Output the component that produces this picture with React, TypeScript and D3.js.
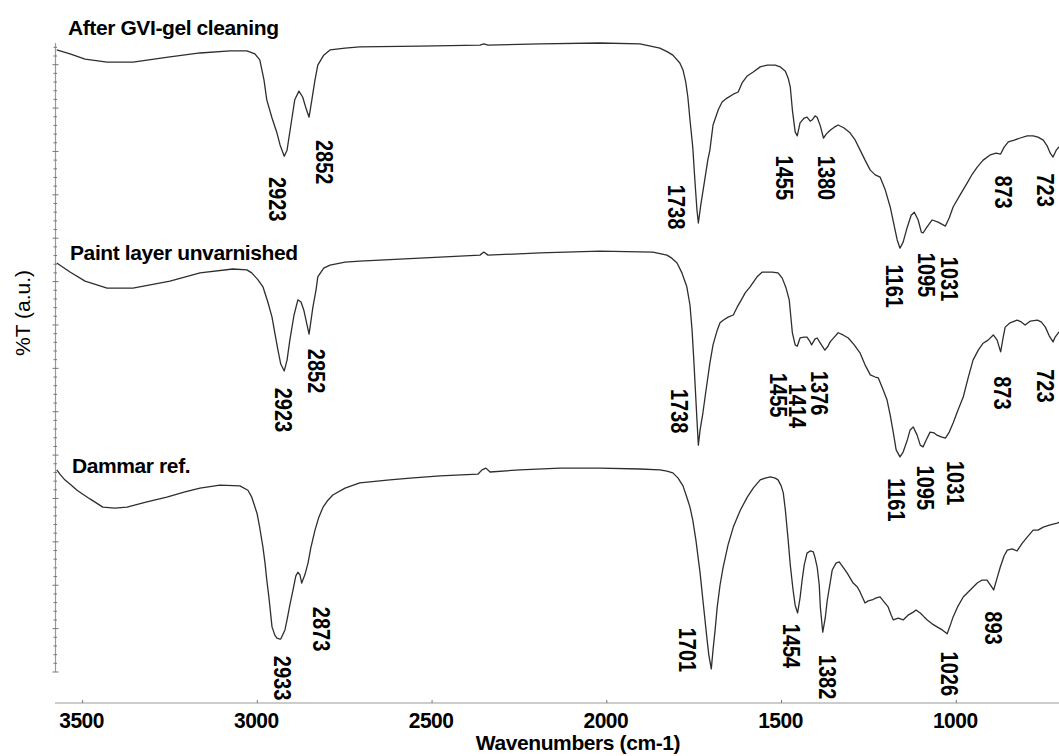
import React from "react";
import * as d3 from "d3";

// FTIR spectra, wavenumber (cm-1) vs stacked transmittance (a.u.)
const gviSpectrum: [number, number][] = [
  [3574, 143.4], [3536, 142.5], [3493, 141.3], [3430, 140.6], [3356, 140.6], [3250, 141.8], [3164, 142.7],
  [3078, 143.2], [3030, 143.2], [3007, 142.5], [2993, 141.1], [2981, 136.5], [2973, 131.9], [2958, 127.7],
  [2944, 124.3], [2935, 121.5], [2923, 118.9], [2915, 120.3], [2904, 126.1], [2893, 131.9], [2881, 133.9],
  [2870, 132.5], [2861, 130.0], [2852, 127.9], [2844, 131.9], [2835, 136.5], [2827, 139.9], [2810, 142.2],
  [2792, 143.4], [2749, 143.8], [2707, 144.1], [2535, 144.3], [2363, 144.5], [2352, 144.8], [2340, 144.5],
  [2191, 144.8], [2020, 145.0], [1905, 144.8], [1848, 143.8], [1825, 142.9], [1811, 142.2], [1791, 140.4],
  [1782, 138.8], [1774, 136.0], [1768, 132.5], [1762, 127.3], [1754, 121.0], [1748, 113.4], [1742, 106.5],
  [1738, 103.5], [1731, 107.7], [1722, 112.3], [1711, 118.0], [1705, 120.3], [1696, 126.1], [1681, 129.6],
  [1670, 131.4], [1656, 132.3], [1638, 133.2], [1624, 133.7], [1613, 135.8], [1598, 137.4], [1581, 138.3],
  [1561, 139.5], [1541, 139.9], [1518, 139.9], [1504, 139.5], [1489, 138.5], [1481, 136.9], [1475, 134.9],
  [1469, 129.6], [1461, 124.5], [1455, 123.6], [1447, 126.6], [1435, 127.7], [1427, 127.9], [1418, 127.0],
  [1412, 127.3], [1404, 128.2], [1398, 127.9], [1389, 125.9], [1380, 123.1], [1372, 124.0], [1361, 124.9],
  [1349, 125.6], [1338, 126.1], [1321, 125.4], [1304, 124.3], [1289, 122.6], [1275, 120.3], [1261, 118.0],
  [1246, 115.7], [1232, 114.6], [1218, 114.1], [1203, 111.1], [1189, 107.2], [1178, 103.0], [1169, 99.6],
  [1161, 97.7], [1152, 99.1], [1140, 102.6], [1129, 105.3], [1120, 106.0], [1109, 104.2], [1100, 101.4],
  [1095, 101.2], [1086, 102.3], [1069, 104.2], [1052, 103.7], [1031, 102.8], [1020, 104.7], [1009, 107.2],
  [989, 110.0], [969, 112.7], [954, 114.8], [940, 116.4], [923, 118.0], [903, 119.2], [886, 119.6],
  [873, 119.4], [863, 121.0], [851, 122.2], [834, 122.6], [817, 123.1], [797, 123.6], [780, 123.6],
  [766, 123.3], [751, 122.6], [740, 121.3], [731, 119.6], [723, 118.7], [714, 120.3], [703, 121.3],
];

const paintSpectrum: [number, number][] = [
  [3574, 94.3], [3536, 92.2], [3493, 90.1], [3430, 88.5], [3356, 88.5], [3250, 90.1], [3164, 92.0],
  [3070, 92.9], [3030, 92.7], [3016, 92.0], [2998, 90.4], [2984, 88.8], [2970, 85.3], [2958, 81.8],
  [2950, 78.2], [2941, 74.2], [2933, 71.0], [2923, 69.4], [2915, 71.9], [2907, 76.5], [2895, 82.3],
  [2884, 85.8], [2875, 85.3], [2867, 83.4], [2852, 77.9], [2847, 80.7], [2841, 84.1], [2832, 88.1],
  [2827, 91.1], [2810, 93.1], [2792, 93.8], [2749, 94.5], [2707, 94.7], [2535, 95.4], [2363, 96.1],
  [2352, 96.8], [2340, 96.1], [2191, 96.6], [2020, 97.0], [1868, 96.8], [1828, 96.1], [1814, 95.4],
  [1799, 94.3], [1785, 92.0], [1771, 88.8], [1762, 84.6], [1756, 78.8], [1751, 71.9], [1748, 67.3],
  [1742, 58.1], [1738, 52.3], [1733, 55.8], [1725, 59.7], [1716, 65.0], [1705, 71.2], [1696, 75.4],
  [1684, 78.8], [1676, 80.5], [1667, 81.1], [1653, 81.8], [1638, 82.3], [1627, 84.1], [1615, 85.8],
  [1604, 87.4], [1590, 88.8], [1570, 91.1], [1555, 92.2], [1541, 92.2], [1527, 92.2], [1510, 92.0],
  [1498, 90.8], [1487, 88.5], [1478, 85.8], [1469, 78.2], [1461, 75.4], [1455, 75.1], [1447, 77.0],
  [1435, 77.2], [1427, 77.2], [1418, 76.1], [1414, 75.4], [1404, 76.8], [1398, 77.0], [1389, 75.8],
  [1376, 74.2], [1367, 75.1], [1361, 76.1], [1349, 77.2], [1338, 78.2], [1324, 77.7], [1309, 77.0],
  [1292, 75.4], [1275, 73.5], [1261, 70.8], [1246, 68.5], [1232, 68.0], [1223, 67.8], [1209, 65.0],
  [1198, 62.7], [1189, 59.2], [1180, 55.1], [1172, 51.2], [1161, 49.6], [1152, 50.7], [1140, 53.5],
  [1132, 55.8], [1123, 56.5], [1112, 54.6], [1103, 52.3], [1095, 51.9], [1086, 53.5], [1075, 55.3],
  [1063, 55.1], [1055, 54.6], [1043, 54.2], [1031, 53.9], [1020, 55.3], [1009, 57.4], [995, 60.4],
  [980, 63.4], [966, 67.8], [952, 71.9], [937, 74.2], [923, 75.8], [909, 76.5], [894, 77.7],
  [883, 76.5], [873, 73.8], [866, 77.0], [860, 79.5], [846, 80.5], [826, 81.1], [814, 80.7],
  [803, 80.0], [788, 80.9], [768, 81.1], [757, 80.7], [745, 79.5], [734, 77.5], [723, 76.1],
  [717, 77.2], [708, 78.2], [703, 78.6],
];

const dammarSpectrum: [number, number][] = [
  [3574, 46.6], [3565, 45.6], [3551, 44.3], [3533, 43.1], [3516, 41.9], [3479, 39.9], [3442, 38.0],
  [3408, 37.8], [3373, 38.0], [3316, 39.2], [3259, 40.3], [3207, 41.5], [3164, 42.4], [3107, 43.1],
  [3050, 42.9], [3027, 41.9], [3016, 40.3], [3001, 36.6], [2993, 33.2], [2984, 28.8], [2978, 25.1],
  [2973, 21.2], [2967, 17.3], [2958, 10.4], [2950, 8.5], [2944, 7.8], [2935, 7.6], [2933, 7.6],
  [2921, 9.7], [2915, 12.0], [2907, 15.4], [2898, 18.9], [2890, 22.1], [2884, 23.0], [2878, 22.4],
  [2873, 20.5], [2864, 22.4], [2855, 25.1], [2847, 28.6], [2835, 32.7], [2824, 35.7], [2812, 38.0],
  [2798, 39.6], [2784, 40.8], [2749, 42.4], [2707, 43.6], [2621, 44.3], [2563, 44.7], [2477, 45.2],
  [2369, 45.6], [2357, 46.6], [2346, 47.0], [2334, 46.1], [2249, 46.6], [2134, 47.0], [2020, 47.0],
  [1905, 46.8], [1848, 46.6], [1828, 46.3], [1811, 45.9], [1796, 44.7], [1782, 42.9], [1771, 40.3],
  [1762, 38.0], [1754, 35.0], [1745, 30.4], [1733, 22.8], [1725, 16.6], [1713, 7.4], [1708, 3.9],
  [1701, 0.7], [1696, 5.1], [1690, 9.7], [1684, 15.0], [1676, 20.0], [1667, 24.2], [1653, 29.3],
  [1638, 33.4], [1618, 37.3], [1598, 40.3], [1581, 42.4], [1561, 44.3], [1547, 44.7], [1532, 45.0],
  [1518, 44.7], [1510, 44.3], [1501, 42.9], [1495, 41.3], [1489, 37.3], [1481, 30.4], [1475, 24.7],
  [1467, 18.9], [1461, 15.4], [1454, 13.6], [1447, 17.1], [1441, 21.2], [1435, 24.7], [1427, 27.4],
  [1418, 27.9], [1409, 27.7], [1404, 26.3], [1398, 24.2], [1392, 20.0], [1389, 15.0], [1384, 10.8],
  [1382, 9.2], [1375, 12.4], [1369, 16.6], [1361, 20.5], [1355, 23.5], [1344, 25.1], [1335, 25.4],
  [1324, 24.2], [1312, 22.8], [1304, 21.7], [1295, 20.5], [1283, 19.6], [1275, 18.4], [1261, 15.9],
  [1252, 16.4], [1241, 16.6], [1229, 17.1], [1218, 17.3], [1206, 16.1], [1195, 15.0], [1186, 13.1],
  [1180, 12.0], [1166, 12.4], [1152, 12.0], [1138, 13.1], [1123, 13.8], [1115, 14.3], [1103, 13.6],
  [1092, 12.7], [1083, 12.0], [1069, 11.1], [1055, 10.4], [1040, 9.7], [1026, 8.8], [1017, 10.8],
  [1009, 12.7], [995, 15.2], [980, 17.3], [960, 18.9], [940, 20.5], [926, 21.2], [912, 21.2],
  [900, 19.8], [893, 18.9], [883, 21.7], [874, 24.2], [863, 26.8], [854, 28.1], [840, 28.4],
  [826, 27.9], [811, 29.7], [797, 31.1], [780, 32.7], [766, 32.7], [751, 33.4], [731, 33.9],
  [711, 34.3], [703, 34.6],
];

const spectrumTitles = ["After GVI-gel cleaning", "Paint layer unvarnished", "Dammar ref."];

// Labelled absorption bands (cm-1)
const gviPeaks = [2923, 2852, 1738, 1455, 1380, 1161, 1095, 1031, 873, 723];
const paintPeaks = [2923, 2852, 1738, 1455, 1414, 1376, 1161, 1095, 1031, 873, 723];
const dammarPeaks = [2933, 2873, 1701, 1454, 1382, 1026, 893];

const xTickValues = [3500, 3000, 2500, 2000, 1500, 1000];

const xAxisTitle = "Wavenumbers (cm-1)";
const yAxisTitle = "%T (a.u.)";

// ---- layout ----
const WIDTH = 1059;
const HEIGHT = 756;
const PLOT_LEFT = 55;
const PLOT_RIGHT = 1059;
const PLOT_TOP = 43;
const PLOT_BOTTOM = 672;
const X_AXIS_Y = 703;
const FONT = "'Liberation Sans', Arial, Helvetica, sans-serif";

// label centre offsets from each band minimum (px)
const gviLabelOffsets = [[-7, 43], [15, 45], [-22, -16], [-13, 42], [3, 40], [-6, 38], [3, 42], [4, 53], [2, 38], [-8, 33]];
const paintLabelOffsets = [[-1, 39], [7, 37], [-19, -34], [-19, 49], [-15, 61], [-6, 43], [-4, 43], [2, 41], [10, 45], [1, 41], [-8, 44]];
const dammarLabelOffsets = [[1, 39], [19, 46], [-24, -19], [-7, 33], [4, 45], [2, 40], [-1, 38]];

const titlePositions = [[68, 34.5], [70, 260], [72, 472.5]];

export default function App() {
  const x = d3.scaleLinear().domain([3579, 706]).range([PLOT_LEFT, PLOT_RIGHT]);
  const y = d3.scaleLinear().domain([0, 145]).range([PLOT_BOTTOM, PLOT_TOP]);
  const line = d3
    .line<[number, number]>()
    .x((d) => x(d[0]))
    .y((d) => y(d[1]));

  const spectra = [
    { data: gviSpectrum, peaks: gviPeaks, offsets: gviLabelOffsets },
    { data: paintSpectrum, peaks: paintPeaks, offsets: paintLabelOffsets },
    { data: dammarSpectrum, peaks: dammarPeaks, offsets: dammarLabelOffsets },
  ];

  const yMinor = d3.range(0, 146, 2);

  return (
    <svg
      width={WIDTH}
      height={HEIGHT}
      style={{ position: "absolute", left: 0, top: 0, background: "#fff" }}
      fontFamily={FONT}
    >
      <defs>
        <clipPath id="plot-clip">
          <rect x={PLOT_LEFT} y={0} width={PLOT_RIGHT - PLOT_LEFT} height={X_AXIS_Y} />
        </clipPath>
      </defs>

      {/* left axis */}
      <line x1={55.5} x2={55.5} y1={PLOT_TOP} y2={PLOT_BOTTOM} stroke="#9a9a9a" strokeWidth={1.2} />
      {yMinor.map((t) => {
        const major = t % 10 === 0;
        return (
          <line
            key={`yt${t}`}
            x1={major ? 52.5 : 53.5}
            x2={major ? 58.5 : 57}
            y1={y(t)}
            y2={y(t)}
            stroke="#777"
            strokeWidth={1}
          />
        );
      })}

      {/* bottom axis */}
      <line x1={PLOT_LEFT} x2={PLOT_RIGHT} y1={X_AXIS_Y} y2={X_AXIS_Y} stroke="#9a9a9a" strokeWidth={1.2} />
      {xTickValues.map((t) => (
        <g key={`xt${t}`}>
          <line x1={x(t)} x2={x(t)} y1={X_AXIS_Y} y2={X_AXIS_Y - 3} stroke="#777" strokeWidth={1} />
          <text
            transform={`translate(${x(t) - 1},728) scale(1,1.08)`}
            textAnchor="middle"
            fontSize={21}
            fontWeight="bold"
            letterSpacing={-0.5}
            fill="#000"
          >
            {t}
          </text>
        </g>
      ))}
      <text x={578} y={750} textAnchor="middle" fontSize={21} fontWeight="bold" letterSpacing={-0.4} fill="#000">
        {xAxisTitle}
      </text>
      <text
        transform="translate(22,313) rotate(-90)"
        textAnchor="middle"
        dominantBaseline="central"
        fontSize={21}
        fill="#000"
      >
        {yAxisTitle}
      </text>

      {/* spectra */}
      <g clipPath="url(#plot-clip)">
        {spectra.map((s, i) => (
          <path key={`sp${i}`} d={line(s.data) || ""} fill="none" stroke="#2e2e2e" strokeWidth={1.3} strokeLinejoin="round" />
        ))}
      </g>

      {/* titles */}
      {spectrumTitles.map((t, i) => (
        <text
          key={`title${i}`}
          x={titlePositions[i][0]}
          y={titlePositions[i][1]}
          fontSize={21}
          fontWeight="bold"
          letterSpacing={-0.4}
          fill="#000"
        >
          {t}
        </text>
      ))}

      {/* band labels */}
      {spectra.map((s, i) =>
        s.peaks.map((p, j) => {
          const pt = s.data.find((d) => d[0] === p);
          const v = pt ? pt[1] : 0;
          const cx = x(p) + s.offsets[j][0];
          const cy = y(v) + s.offsets[j][1];
          return (
            <text
              key={`lbl${i}-${j}`}
              transform={`translate(${cx},${cy}) rotate(90) scale(1,1.15)`}
              textAnchor="middle"
              dominantBaseline="central"
              fontSize={20}
              fontWeight="bold"
              fill="#000"
            >
              {p}
            </text>
          );
        })
      )}
    </svg>
  );
}
